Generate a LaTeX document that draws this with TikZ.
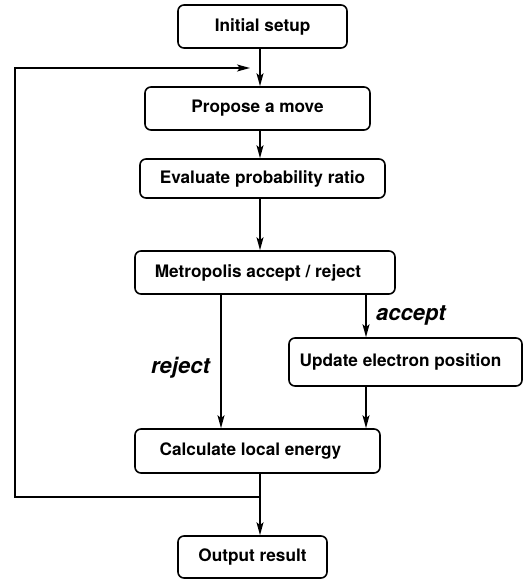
\documentclass[tikz,border=0pt]{standalone}
\usepackage{fontspec}
\setmainfont{TeX Gyre Heros}
\usetikzlibrary{arrows.meta}
\begin{document}
\begin{tikzpicture}[x=1bp,y=-1bp,
  box/.style={draw,line width=1.6bp,rounded corners=6bp,inner sep=0pt,
    font=\bfseries\fontsize{17.2bp}{20bp}\selectfont},
  lab/.style={inner sep=0pt,font=\bfseries\itshape\fontsize{22bp}{26bp}\selectfont},
  arr/.style={line width=1.6bp,-{Stealth[length=13bp,width=7bp,inset=3bp]}},
  ln/.style={line width=1.6bp}]
\useasboundingbox (0,0) rectangle (524,582);
\node[box,minimum width=169bp,minimum height=43bp] (init) at (262.5,26.5) {Initial setup};
\node[box,minimum width=225bp,minimum height=43bp] (propose) at (257.5,108.5) {Propose a move};
\node[box,minimum width=245bp,minimum height=39bp] (eval) at (262.5,178.5) {Evaluate probability ratio};
\node[box,minimum width=260bp,minimum height=43bp] (metro) at (265,272.5) {\hspace*{-14bp}Metropolis accept / reject};
\node[box,minimum width=233bp,minimum height=48bp] (update) at (405.5,362) {\hspace*{-10bp}Update electron position};
\node[box,minimum width=245bp,minimum height=44bp] (calc) at (257.5,451) {\hspace*{-14bp}Calculate local energy};
\node[box,minimum width=149bp,minimum height=42bp] (output) at (252.5,557) {Output result};
\coordinate (spine) at (260,0);
\coordinate (rej) at (221,0);
\coordinate (acc) at (366,0);
\coordinate (fb) at (260,497);
\coordinate (loopL) at (15,497);
\coordinate (fbin) at (250,68);
\draw[arr] (init.south -| spine) -- (propose.north -| spine);
\draw[arr] (propose.south -| spine) -- (eval.north -| spine);
\draw[arr] (eval.south -| spine) -- (metro.north -| spine);
\draw[arr] (metro.south -| rej) -- (calc.north -| rej);
\draw[arr] (metro.south -| acc) -- (update.north -| acc);
\draw[arr] (update.south -| acc) -- (calc.north -| acc);
\draw[arr] (calc.south -| spine) -- (output.north -| spine);
\draw[arr] (fb) -- (loopL) |- (fbin);
\node[lab,anchor=west] (accl) at (376,315) {accept};
\node[lab] (rejl) at (180.5,368) {reject};
\end{tikzpicture}
\end{document}
